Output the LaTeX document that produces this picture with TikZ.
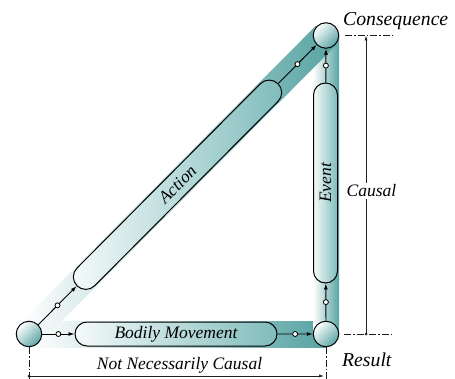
\documentclass[tikz,border=0pt]{standalone}
\usepackage{fontspec}
\setmainfont{Liberation Serif}
\usetikzlibrary{shapes.misc,arrows.meta,calc}
\definecolor{bandc}{RGB}{88,163,163}
\definecolor{capc}{RGB}{128,188,188}
\definecolor{circc}{RGB}{92,165,165}
\definecolor{dimc}{RGB}{30,30,30}
\begin{document}
\begin{tikzpicture}[x=1pt,y=-1pt,
  band/.style={rectangle, inner sep=0pt, minimum height=26pt, left color=white, right color=bandc, draw=none},
  capsule/.style={rounded rectangle, draw=black, line width=1pt, inner sep=0pt, minimum height=24pt,
     left color=white!92!capc, right color=capc, font=\fontsize{17.5}{20}\selectfont\itshape},
  state/.style={circle, draw=black, line width=1pt, minimum size=25.5pt, inner sep=0pt,
     top color=white, bottom color=circc, shading angle=45},
  dotc/.style={circle, draw=black, fill=white, line width=0.8pt, inner sep=0pt, minimum size=5pt},
  conn/.style={draw=black, line width=0.9pt, -{Latex[length=6pt,width=4pt]}},
  dim/.style={draw=dimc, line width=0.6pt},
  dimdash/.style={draw=dimc, line width=0.6pt, dash pattern=on 7pt off 2pt on 1.5pt off 2pt},
  lab/.style={font=\fontsize{17.5}{20}\selectfont\itshape, inner sep=1pt},
  biglab/.style={font=\fontsize{19.7}{22}\selectfont\itshape, inner sep=0pt}]
\useasboundingbox (0,0) rectangle (455,379);
\coordinate (pL) at (29,334);
\coordinate (pR) at (326,334);
\coordinate (pC) at (326,35.5);
% bands
\node[band, minimum width=297pt] (bandB) at ($(pL)!0.5!(pR)$) {};
\node[band, minimum width=298.5pt, rotate=90] (bandV) at ($(pR)!0.5!(pC)$) {};
\node[band, minimum width=421pt, minimum height=28pt, rotate=45.15] (bandD) at ($(pL)!0.5!(pC)$) {};
% states
\node[state] (L) at (pL) {};
\node[state] (R) at (pR) {};
\node[state] (C) at (pC) {};
% capsules
\node[capsule, minimum width=202pt] (bm) at (176,334) {Bodily Movement};
\node[capsule, minimum width=200pt, rotate=90] (ev) at (325.5,183) {Event};
\node[capsule, minimum width=285pt, minimum height=25pt, rotate=45.15] (ac) at ($(pL)!0.5!(pC)$) {Action};
% connectors
\draw[conn] (L) -- node[dotc] (d1) {} (bm);
\draw[conn] (bm) -- node[dotc] (d2) {} (R);
\draw[conn] (R) -- node[dotc] (d3) {} (ev);
\draw[conn] (ev) -- node[dotc] (d4) {} (C);
\draw[conn] (L) -- node[dotc] (d5) {} (ac);
\draw[conn] (ac) -- node[dotc] (d6) {} (C);
% labels
\node[biglab, anchor=base west] (tC) at (343,26) {Consequence};
\node[biglab, anchor=base west] (tR) at (342,366) {Result};
% right dimension
\coordinate (e1a) at (344,334); \coordinate (e1b) at (393,334);
\coordinate (e2a) at (345,35); \coordinate (e2b) at (393,35);
\draw[dimdash] (e1a) -- (e1b);
\draw[dimdash] (e2a) -- (e2b);
\coordinate (v1) at (366,334); \coordinate (v2) at (366,35.5);
\draw[dim, -{Latex[length=5pt,width=3pt]}] (v1) -- (v2);
\fill[dimc] (v1) circle (1.5pt);
\node[lab, fill=white, inner sep=2pt] (causal) at (371.5,191) {Causal};
% bottom dimension
\coordinate (b1a) at (29,347); \coordinate (b1b) at (29,379);
\coordinate (b2a) at (326,347); \coordinate (b2b) at (326,379);
\draw[dimdash] (b1a) -- (b1b);
\draw[dimdash] (b2a) -- (b2b);
\coordinate (h1) at (29,376); \coordinate (h2) at (324,376);
\draw[dim, -{Latex[length=5pt,width=3pt]}] (h1) -- (h2);
\fill[dimc] (h1) circle (1.5pt);
\node[lab, anchor=base] (nnc) at (179.5,369.5) {Not Necessarily Causal};
\end{tikzpicture}
\end{document}
